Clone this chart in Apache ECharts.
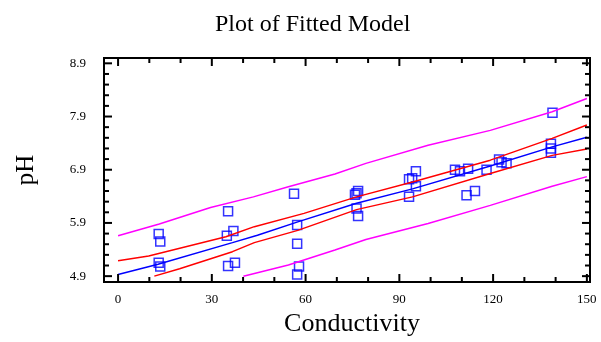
<!DOCTYPE html>
<html>
<head>
    <meta charset="UTF-8">
    <title>Plot of Fitted Model</title>
    <script src="https://cdn.jsdelivr.net/npm/echarts@6/dist/echarts.min.js"></script>
    <style>
        body { margin: 0; background: #fff; }
        #chart { width: 601px; height: 342px; }
    </style>
</head>
<body>
    <div id="chart"></div>
    <script>
        // observed points (conductivity, pH)
        var obsX = [13.0, 13.5, 13.0, 13.5, 35.2, 34.8, 36.9, 35.2, 37.4,
                    56.3, 57.3, 57.3, 57.9, 57.3,
                    76.8, 76.3, 75.8, 76.3, 76.8,
                    93.1, 94.1, 95.3, 95.3, 93.1,
                    107.8, 109.4, 112.0, 111.5, 114.2, 117.9,
                    121.9, 122.7, 124.3, 139.0, 138.5, 138.5, 138.5];
        var obsY = [5.69, 5.55, 5.15, 5.08, 6.12, 5.66, 5.75, 5.09, 5.15,
                    6.45, 5.86, 5.51, 5.08, 4.93,
                    6.50, 6.46, 6.43, 6.17, 6.03,
                    6.72, 6.74, 6.87, 6.59, 6.39,
                    6.90, 6.87, 6.92, 6.42, 6.50, 6.90,
                    7.09, 7.04, 7.02, 7.97, 7.39, 7.30, 7.22];

        // fitted line
        var fitX = [0, 12.8, 36.6, 44.6, 57.5, 76.3, 94.2, 119.1, 138.9, 150];
        var fitY = [4.93, 5.125, 5.53, 5.67, 5.92, 6.27, 6.54, 6.97, 7.33, 7.51];

        // confidence limits for the mean
        var confUpX = [0, 9.8, 34.5, 43.6, 59.5, 76.3, 94.2, 119.1, 138.9, 150];
        var confUpY = [5.19, 5.28, 5.64, 5.83, 6.08, 6.39, 6.67, 7.08, 7.49, 7.74];
        var confLoX = [11.6, 19.7, 36.6, 43.6, 57.5, 76.3, 94.2, 119.1, 138.9, 150];
        var confLoY = [4.9, 5.04, 5.36, 5.53, 5.76, 6.15, 6.39, 6.83, 7.17, 7.29];

        // prediction limits
        var predUpX = [0, 13.2, 29.6, 43.3, 54.5, 69.4, 79.3, 99.2, 119.1, 138.9, 150];
        var predUpY = [5.66, 5.88, 6.19, 6.39, 6.58, 6.82, 7.02, 7.36, 7.64, 7.99, 8.24];
        var predLoX = [40.1, 54.5, 69.4, 79.3, 99.2, 119.1, 138.9, 150];
        var predLoY = [4.9, 5.11, 5.39, 5.59, 5.89, 6.23, 6.59, 6.77];

        // tick positions
        var xTicks = [0, 30, 60, 90, 120, 150];
        var xMinor = [10, 20, 40, 50, 70, 80, 100, 110, 130, 140];
        var yTicks = [4.9, 5.9, 6.9, 7.9, 8.9];
        var yMinor = [5.1, 5.3, 5.5, 5.7, 6.1, 6.3, 6.5, 6.7, 7.1, 7.3, 7.5, 7.7, 8.1, 8.3, 8.5, 8.7];

        function pairs(xs, ys) {
            return xs.map(function (x, i) { return [x, ys[i]]; });
        }

        var font = 'Liberation Serif';

        // [axis (0 = x, 1 = y), value, tick length]
        var tickData = [];
        xTicks.forEach(function (v) { tickData.push([0, v, 8]); });
        xMinor.forEach(function (v) { tickData.push([0, v, 5]); });
        yTicks.forEach(function (v) { tickData.push([1, v, 8]); });
        yMinor.forEach(function (v) { tickData.push([1, v, 5]); });

        // inward ticks on all four sides of the frame
        function renderTick(params, api) {
            var cs = params.coordSys;
            var kind = api.value(0), v = api.value(1), len = api.value(2);
            var st = { stroke: '#000', lineWidth: 2 };
            if (kind === 0) {
                var px = api.coord([v, 6])[0];
                var b = cs.y + cs.height, t = cs.y;
                return { type: 'group', children: [
                    { type: 'line', shape: { x1: px, y1: b, x2: px, y2: b - len }, style: st },
                    { type: 'line', shape: { x1: px, y1: t, x2: px, y2: t + len }, style: st }
                ] };
            }
            var py = api.coord([50, v])[1];
            var l = cs.x, r = cs.x + cs.width;
            return { type: 'group', children: [
                { type: 'line', shape: { x1: l, y1: py, x2: l + len, y2: py }, style: st },
                { type: 'line', shape: { x1: r, y1: py, x2: r - len, y2: py }, style: st }
            ] };
        }

        var chart = echarts.init(document.getElementById('chart'), null, { renderer: 'canvas' });
        chart.setOption({
            animation: false,
            backgroundColor: '#fff',
            title: {
                text: 'Plot of Fitted Model',
                left: 210, top: 8,
                textStyle: { fontFamily: font, fontSize: 24, fontWeight: 'normal', color: '#000' }
            },
            grid: {
                left: 104, right: 11, top: 58, bottom: 60,
                show: true, borderColor: '#000', borderWidth: 2
            },
            xAxis: {
                type: 'value', min: -4.5, max: 151,
                name: 'Conductivity', nameLocation: 'middle', nameGap: 26,
                nameTextStyle: { fontFamily: font, fontSize: 26, color: '#000', padding: [0, 0, 0, 10] },
                axisLine: { show: false, onZero: false },
                axisTick: { show: false },
                splitLine: { show: false },
                axisLabel: { customValues: xTicks, margin: 11,
                             fontFamily: font, fontSize: 13, color: '#000' }
            },
            yAxis: {
                type: 'value', min: 4.79, max: 9.0,
                name: 'pH', nameLocation: 'middle', nameGap: 65,
                nameTextStyle: { fontFamily: font, fontSize: 25, color: '#000' },
                axisLine: { show: false, onZero: false },
                axisTick: { show: false },
                splitLine: { show: false },
                axisLabel: { customValues: yTicks, margin: 18,
                             fontFamily: font, fontSize: 13, color: '#000' }
            },
            series: [
                { type: 'custom', data: tickData, renderItem: renderTick, silent: true, z: 5 },
                { type: 'line', data: pairs(predUpX, predUpY), showSymbol: false,
                  lineStyle: { color: '#ff00ff', width: 1.5 } },
                { type: 'line', data: pairs(predLoX, predLoY), showSymbol: false,
                  lineStyle: { color: '#ff00ff', width: 1.5 } },
                { type: 'line', data: pairs(confUpX, confUpY), showSymbol: false,
                  lineStyle: { color: '#ff0000', width: 1.5 } },
                { type: 'line', data: pairs(confLoX, confLoY), showSymbol: false,
                  lineStyle: { color: '#ff0000', width: 1.5 } },
                { type: 'line', data: pairs(fitX, fitY), showSymbol: false,
                  lineStyle: { color: '#0000ff', width: 1.5 } },
                { type: 'scatter', data: pairs(obsX, obsY), symbol: 'rect', symbolSize: 9,
                  itemStyle: { color: 'rgba(0,0,0,0)', borderColor: '#0000ff', borderWidth: 1.5 } }
            ]
        });
    </script>
</body>
</html>
